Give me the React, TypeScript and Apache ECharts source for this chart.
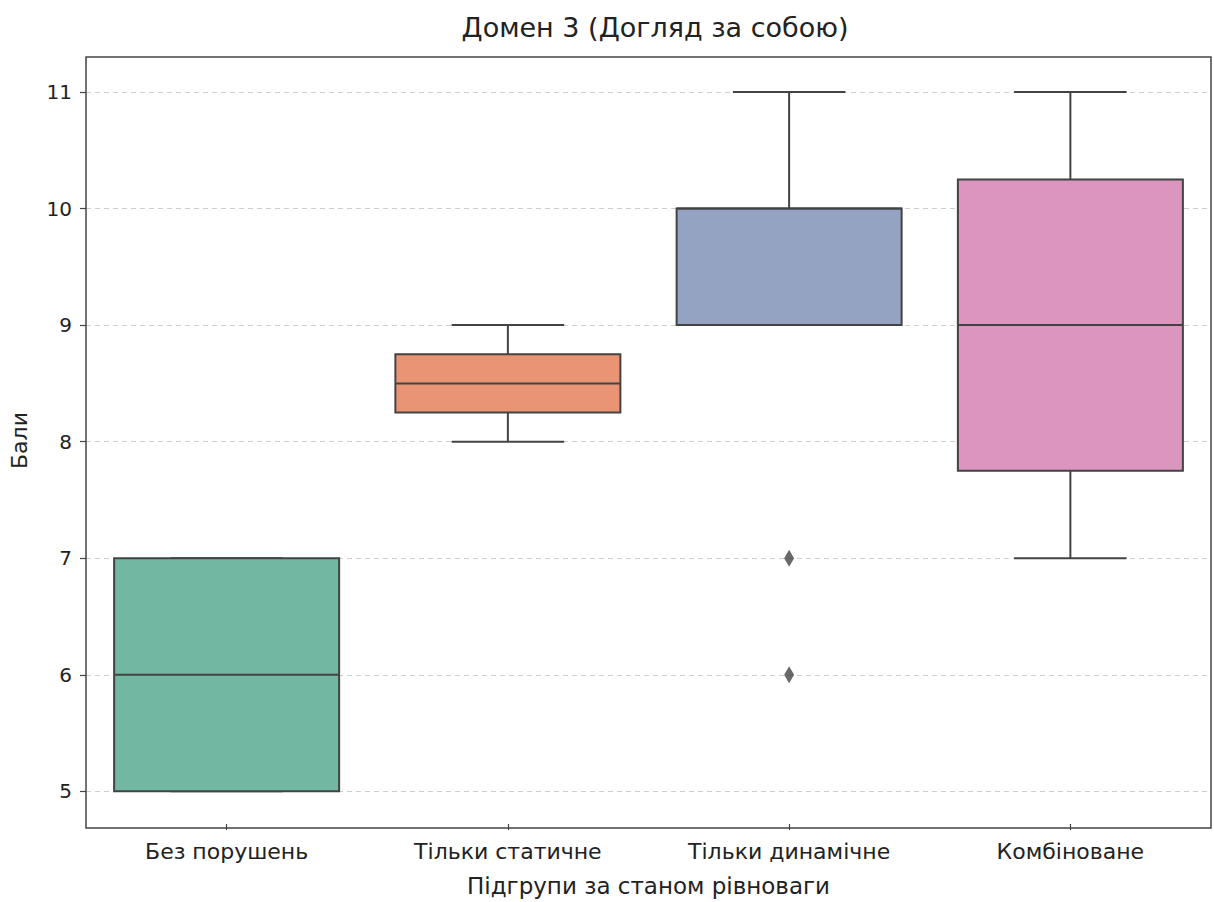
import React, { useEffect, useRef } from "react";
import * as echarts from "echarts";

const categories = ["Без порушень", "Тільки статичне", "Тільки динамічне", "Комбіноване"];
const whiskerLow = [5, 8, 9, 7];
const q1 = [5, 8.25, 9, 7.75];
const median = [6, 8.5, 10, 9];
const q3 = [7, 8.75, 10, 10.25];
const whiskerHigh = [7, 9, 11, 11];
const outliers: [number, number][] = [
  [2, 7],
  [2, 6],
];
const boxColors = ["#72b7a1", "#e99575", "#95a3c3", "#db96c0"];

const FONT = "'DejaVu Sans', sans-serif";
const EDGE = "#434343";

export default function App() {
  const ref = useRef<HTMLDivElement>(null);
  useEffect(() => {
    if (!ref.current) return;
    const chart = echarts.init(ref.current, undefined, { renderer: "svg" });
    const boxData = categories.map((_, i) => [i, whiskerLow[i], q1[i], median[i], q3[i], whiskerHigh[i]]);
    chart.setOption({
      animation: false,
      backgroundColor: "#ffffff",
      title: {
        text: "Домен 3 (Догляд за собою)",
        left: 650,
        textAlign: "center",
        top: 9,
        textStyle: { fontFamily: FONT, fontSize: 27, fontWeight: "normal", color: "#222" },
      },
      grid: {
        left: 86,
        right: 3,
        top: 57,
        bottom: 74,
        show: false,
      },
      graphic: [
        {
          type: "rect",
          shape: { x: 86, y: 57, width: 1125, height: 771 },
          style: { fill: "none", stroke: "#444", lineWidth: 1.5 },
          z: 100,
          silent: true,
        },
      ],
      xAxis: {
        type: "category",
        data: categories,
        boundaryGap: true,
        name: "Підгрупи за станом рівноваги",
        nameLocation: "middle",
        nameGap: 50,
        nameTextStyle: { fontFamily: FONT, fontSize: 23, color: "#222" },
        axisLine: { show: false },
        axisTick: { show: true, alignWithLabel: true, length: 6, lineStyle: { color: "#444", width: 1.2 } },
        axisLabel: { fontFamily: FONT, fontSize: 22, color: "#222", margin: 16 },
        splitLine: { show: false },
      },
      yAxis: {
        type: "value",
        min: 4.72,
        max: 11.3,
        splitNumber: 7,
        name: "Бали",
        nameLocation: "middle",
        nameGap: 56,
        nameTextStyle: { fontFamily: FONT, fontSize: 22, color: "#222" },
        axisLine: { show: false },
        axisTick: { show: true, length: 6, lineStyle: { color: "#444", width: 1.2 } },
        axisLabel: { fontFamily: FONT, fontSize: 20, color: "#222", margin: 14, showMinLabel: false, showMaxLabel: false },
        splitLine: {
          show: true,
          showMinLine: false,
          showMaxLine: false,
          lineStyle: { color: "#cfcfcf", type: [5, 4], width: 1 },
        },
      },
      series: [
        {
          type: "custom",
          data: boxData,
          encode: { x: 0, y: [1, 2, 3, 4, 5] },
          renderItem: (params: any, api: any) => {
            const idx = api.value(0);
            const band = api.size([1, 0])[0];
            const pLo = api.coord([idx, api.value(1)]);
            const pQ1 = api.coord([idx, api.value(2)]);
            const pMed = api.coord([idx, api.value(3)]);
            const pQ3 = api.coord([idx, api.value(4)]);
            const pHi = api.coord([idx, api.value(5)]);
            const cx = pMed[0];
            const bw = band * 0.8;
            const cw = band * 0.4;
            const ls = { stroke: EDGE, lineWidth: 2 };
            return {
              type: "group",
              children: [
                { type: "line", shape: { x1: cx, y1: pQ1[1], x2: cx, y2: pLo[1] }, style: ls },
                { type: "line", shape: { x1: cx, y1: pQ3[1], x2: cx, y2: pHi[1] }, style: ls },
                { type: "line", shape: { x1: cx - cw / 2, y1: pLo[1], x2: cx + cw / 2, y2: pLo[1] }, style: ls },
                { type: "line", shape: { x1: cx - cw / 2, y1: pHi[1], x2: cx + cw / 2, y2: pHi[1] }, style: ls },
                {
                  type: "rect",
                  shape: { x: cx - bw / 2, y: pQ3[1], width: bw, height: pQ1[1] - pQ3[1] },
                  style: { fill: boxColors[idx], stroke: EDGE, lineWidth: 2 },
                },
                { type: "line", shape: { x1: cx - bw / 2, y1: pMed[1], x2: cx + bw / 2, y2: pMed[1] }, style: ls },
              ],
            };
          },
          z: 3,
        },
        {
          type: "scatter",
          data: outliers,
          symbol: "diamond",
          symbolSize: [10, 17],
          itemStyle: { color: EDGE },
          z: 4,
        },
      ],
    });
    return () => chart.dispose();
  }, []);
  return (
    <div
      ref={ref}
      style={{ position: "fixed", left: 0, top: 0, width: 1214, height: 902, background: "#fff" }}
    />
  );
}
